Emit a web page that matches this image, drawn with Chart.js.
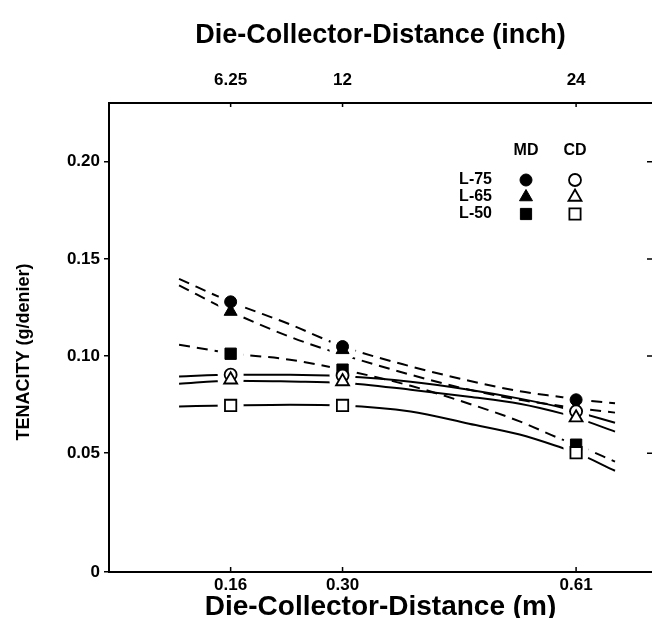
<!DOCTYPE html>
<html>
<head>
<meta charset="utf-8">
<script src="https://cdn.jsdelivr.net/npm/chart.js@4.4.0/dist/chart.umd.min.js"></script>
<style>
  html, body { margin: 0; padding: 0; background: #fff; overflow: hidden; }
</style>
</head>
<body>
<canvas id="chart" width="652" height="618"></canvas>
<script>
// distances are plotted in inches, bottom axis shows the same points in metres
let distInch = [6.25, 12, 24];
let inchLabels = ['6.25', '12', '24'];
let meterLabels = ['0.16', '0.30', '0.61'];
let yTicks = [0.05, 0.10, 0.15, 0.20];
let yMin = -0.0111, yMax = 0.2302;

// measured tenacity (g/denier)
let l75MD = [0.1279, 0.1049, 0.0775];
let l65MD = [0.1229, 0.1032, 0.0734];
let l50MD = [0.1012, 0.0930, 0.0544];
let l75CD = [0.0904, 0.0900, 0.0715];
let l65CD = [0.0878, 0.0869, 0.0683];
let l50CD = [0.0746, 0.0746, 0.0503];

// fitted curves
let fitInch = [3.6, 6.25, 9.3, 12, 15.5, 18.5, 21.1, 23.3, 24, 26];
let l75MDFit = [0.1397, 0.1279, 0.1163, 0.1050, 0.0947, 0.0873, 0.0819, 0.0788, 0.0778, 0.0757];
let l65MDFit = [0.1364, 0.1229, 0.1099, 0.1007, 0.0904, 0.0827, 0.0775, 0.0742, 0.0732, 0.0709];
let l50MDFit = [0.1058, 0.1015, 0.0981, 0.0930, 0.0847, 0.0755, 0.0664, 0.0570, 0.0544, 0.0457];
let l75CDFit = [0.0895, 0.0904, 0.0904, 0.0896, 0.0868, 0.0827, 0.0781, 0.0734, 0.0714, 0.0657];
let l65CDFit = [0.0858, 0.0873, 0.0869, 0.0863, 0.0827, 0.0791, 0.0755, 0.0704, 0.0683, 0.0611];
let l50CDFit = [0.0741, 0.0746, 0.0750, 0.0746, 0.0715, 0.0652, 0.0596, 0.0527, 0.0503, 0.0410];

let legendRows = ['L-75', 'L-65', 'L-50'];
let legendStyles = ['circle', 'triangle', 'rect'];

const FONT = '"Liberation Sans", Arial, Helvetica, sans-serif';

pts = (xs, ys) => xs.map((x, i) => ({ x: x, y: ys[i] }));

curve = (ys, dashed) => ({
  data: pts(fitInch, ys),
  showLine: true,
  borderColor: '#000',
  borderWidth: 2,
  borderDash: dashed ? [11, 7] : [],
  cubicInterpolationMode: 'monotone',
  pointRadius: 0,
  order: 3
});

halo = ys => ({
  data: pts(distInch, ys),
  pointStyle: 'circle',
  pointRadius: 13,
  pointBackgroundColor: '#fff',
  pointBorderWidth: 0,
  order: 2
});

marker = (ys, style, filled) => ({
  data: pts(distInch, ys),
  pointStyle: style,
  pointRadius: style == 'circle' ? 6 : style == 'triangle' ? 7.5 : 8,
  pointBackgroundColor: filled ? '#000' : '#fff',
  pointBorderColor: '#000',
  pointBorderWidth: filled ? 1 : 1.8,
  order: filled ? 1 : 0
});

drawMark = (ctx, style, x, y, filled) => {
  ctx.beginPath();
  if (style == 'circle') {
    ctx.arc(x, y, 6, 0, Math.PI * 2);
  } else if (style == 'triangle') {
    let r = 7.5;
    ctx.moveTo(x, y - r);
    ctx.lineTo(x + r * 0.866, y + r / 2);
    ctx.lineTo(x - r * 0.866, y + r / 2);
    ctx.closePath();
  } else {
    ctx.rect(x - 5.6, y - 5.6, 11.2, 11.2);
  }
  ctx.fillStyle = filled ? '#000' : '#fff';
  ctx.fill();
  ctx.lineWidth = filled ? 1 : 1.8;
  ctx.strokeStyle = '#000';
  ctx.stroke();
}

// keep the plot box fixed: no extra room for tick labels at the ends
fitX = h => s => {
  s.height = h;
  s.paddingLeft = 0;
  s.paddingRight = 0;
};

// inward tick marks on the top, bottom and right sides, the y title and the symbol key
let framePlugin = {
  id: 'frame',
  afterDatasetsDraw: chart => {
    let ctx = chart.ctx;
    let area = chart.chartArea;
    let x = chart.scales.x, y = chart.scales.y;
    ctx.save();
    ctx.strokeStyle = '#000';
    ctx.lineWidth = 1.5;
    ctx.beginPath();
    distInch.forEach(v => {
      let px = x.getPixelForValue(v);
      ctx.moveTo(px, area.bottom);
      ctx.lineTo(px, area.bottom - 5);
      ctx.moveTo(px, area.top);
      ctx.lineTo(px, area.top + 4);
    });
    yTicks.forEach(v => {
      let py = y.getPixelForValue(v);
      ctx.moveTo(area.right, py);
      ctx.lineTo(area.right - 5, py);
    });
    ctx.stroke();

    ctx.fillStyle = '#000';
    ctx.textBaseline = 'middle';
    ctx.textAlign = 'center';

    ctx.save();
    ctx.translate(24, 352);
    ctx.rotate(-Math.PI / 2);
    ctx.font = 'bold 18px ' + FONT;
    ctx.fillText('TENACITY (g/denier)', 0, 0);
    ctx.restore();

    ctx.font = 'bold 16px ' + FONT;
    ctx.fillText('MD', 526, 151);
    ctx.fillText('CD', 575, 151);
    legendRows.forEach((name, i) => {
      let ly = 180 + i * 17;
      ctx.fillStyle = '#000';
      ctx.textAlign = 'right';
      ctx.fillText(name, 492, ly);
      drawMark(ctx, legendStyles[i], 526, ly, true);
      drawMark(ctx, legendStyles[i], 575, ly, false);
    });
    ctx.restore();
  }
};

let canvas = document.getElementById('chart').getContext('2d');

let chart = new Chart(canvas, {
  type: 'scatter',
  data: {
    datasets: [
      curve(l75MDFit, true),
      curve(l65MDFit, true),
      curve(l50MDFit, true),
      curve(l75CDFit, false),
      curve(l65CDFit, false),
      curve(l50CDFit, false),
      halo(l75MD), halo(l65MD), halo(l50MD),
      halo(l75CD), halo(l65CD), halo(l50CD),
      marker(l65MD, 'triangle', true),
      marker(l75MD, 'circle', true),
      marker(l50MD, 'rect', true),
      marker(l65CD, 'triangle', false),
      marker(l75CD, 'circle', false),
      marker(l50CD, 'rect', false)
    ]
  },
  options: {
    responsive: false,
    animation: false,
    events: [],
    layout: { padding: 0, autoPadding: false },
    plugins: { legend: { display: false }, tooltip: { enabled: false } },
    scales: {
      x: {
        type: 'linear',
        position: 'bottom',
        min: 0,
        max: 27.9,
        afterBuildTicks: s => { s.ticks = distInch.map(v => ({ value: v })); },
        afterFit: fitX(46),
        ticks: {
          color: '#000',
          padding: 3,
          maxRotation: 0,
          font: { family: FONT, size: 17, weight: 'bold' },
          callback: (v, i) => meterLabels[i]
        },
        grid: { display: false, drawTicks: false },
        border: { display: true, color: '#000', width: 2 },
        title: {
          display: true,
          text: 'Die-Collector-Distance (m)',
          color: '#000',
          padding: 0,
          font: { family: FONT, size: 28, weight: 'bold', lineHeight: 0.78 }
        }
      },
      x2: {
        type: 'linear',
        position: 'top',
        min: 0,
        max: 27.9,
        afterBuildTicks: s => { s.ticks = distInch.map(v => ({ value: v })); },
        afterFit: fitX(103),
        ticks: {
          color: '#000',
          padding: 12,
          maxRotation: 0,
          font: { family: FONT, size: 17, weight: 'bold' },
          callback: (v, i) => inchLabels[i]
        },
        grid: { display: false, drawTicks: false },
        border: { display: true, color: '#000', width: 2 },
        title: {
          display: true,
          text: 'Die-Collector-Distance (inch)',
          color: '#000',
          padding: { top: 19 },
          font: { family: FONT, size: 27, weight: 'bold' }
        }
      },
      y: {
        type: 'linear',
        min: yMin,
        max: yMax,
        afterBuildTicks: s => { s.ticks = [yMin].concat(yTicks).map(v => ({ value: v })); },
        afterFit: s => { s.width = 109; s.paddingTop = 0; s.paddingBottom = 0; },
        ticks: {
          color: '#000',
          padding: 4,
          font: { family: FONT, size: 17, weight: 'bold' },
          callback: v => v == yMin ? '0' : v.toFixed(2)
        },
        grid: { display: true, drawOnChartArea: false, drawTicks: true, tickLength: 5, color: '#000', lineWidth: 1.5 },
        border: { display: true, color: '#000', width: 2 }
      }
    }
  },
  plugins: [framePlugin]
});
</script>
</body>
</html>
